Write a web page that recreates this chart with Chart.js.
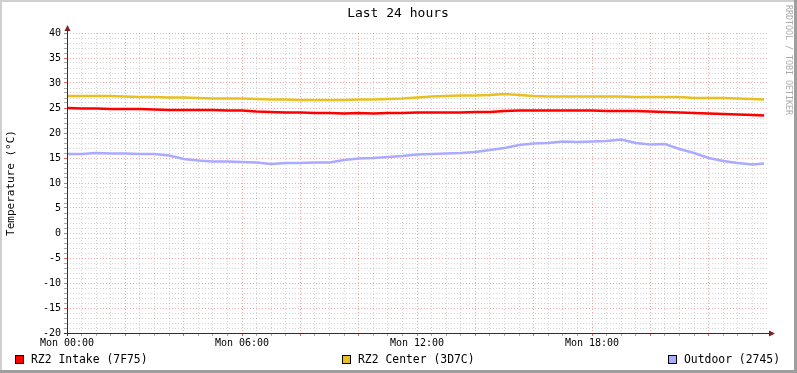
<!DOCTYPE html>
<html>
<head>
<meta charset="utf-8">
<script src="https://cdn.jsdelivr.net/npm/chart.js@4/dist/chart.umd.min.js"></script>
<style>
  html, body { margin: 0; padding: 0; background: #fff; }
  canvas { display: block; }
</style>
</head>
<body>
<canvas id="tempChart" width="797" height="373"></canvas>
<script>
// hours since Mon 00:00
const hours = [
  0, 0.5, 1, 1.5, 2, 2.5, 3, 3.5, 4, 4.5, 5, 5.5,
  6, 6.5, 7, 7.5, 8, 8.5, 9, 9.5, 10, 10.5, 11, 11.5,
  12, 12.5, 13, 13.5, 14, 14.5, 15, 15.5, 16, 16.5, 17, 17.5,
  18, 18.5, 19, 19.5, 20, 20.5, 21, 21.5, 22, 22.5, 23, 23.5, 23.9
];

const intake = [
  25.0, 24.9, 24.9, 24.8, 24.8, 24.8, 24.7, 24.6, 24.6, 24.6, 24.6, 24.5,
  24.5, 24.3, 24.2, 24.1, 24.1, 24.0, 24.0, 23.9, 24.0, 23.9, 24.0, 24.0,
  24.1, 24.1, 24.1, 24.1, 24.2, 24.2, 24.4, 24.5, 24.5, 24.5, 24.5, 24.5,
  24.5, 24.4, 24.4, 24.4, 24.3, 24.2, 24.1, 24.0, 23.9, 23.8, 23.7, 23.6, 23.5
];

const center = [
  27.4, 27.4, 27.4, 27.4, 27.3, 27.2, 27.2, 27.1, 27.1, 27.0, 26.9, 26.9,
  26.9, 26.8, 26.7, 26.7, 26.6, 26.6, 26.6, 26.6, 26.7, 26.7, 26.8, 26.9,
  27.1, 27.3, 27.4, 27.5, 27.5, 27.6, 27.8, 27.6, 27.4, 27.3, 27.3, 27.3,
  27.3, 27.3, 27.3, 27.2, 27.2, 27.2, 27.2, 27.0, 27.0, 27.0, 26.9, 26.8, 26.7
];

const outdoor = [
  15.8, 15.8, 16.0, 15.9, 15.9, 15.8, 15.8, 15.5, 14.8, 14.5, 14.3, 14.3,
  14.2, 14.1, 13.8, 14.0, 14.0, 14.1, 14.1, 14.6, 14.9, 15.0, 15.2, 15.4,
  15.7, 15.8, 15.9, 16.0, 16.2, 16.6, 17.0, 17.6, 17.9, 18.0, 18.3, 18.2,
  18.3, 18.4, 18.7, 18.0, 17.7, 17.8, 16.8, 16.0, 15.0, 14.4, 14.0, 13.7, 13.9
];

const seriesNames = ["RZ2 Intake (7F75)", "RZ2 Center (3D7C)", "Outdoor (2745)"];
const seriesColors = ["#FF0000", "#E8C020", "#AAAAFF"];

const MONO = "'DejaVu Sans Mono', monospace";
const MINOR = "rgba(160,160,160,0.45)";
const MAJOR = "rgba(225,100,100,0.55)";

function toPoints(vals) {
  return vals.map((v, i) => ({ x: hours[i], y: v }));
}

// fondo, marcos, títulos, leyenda y ejes con flechas
const rrdDecor = {
  id: "rrdDecor",
  beforeDraw(chart) {
    const ctx = chart.ctx;
    ctx.save();
    ctx.fillStyle = "#fff";
    ctx.fillRect(0, 0, chart.width, chart.height);
    ctx.restore();
  },
  afterDraw(chart) {
    const ctx = chart.ctx;
    const a = chart.chartArea;
    const W = chart.width, H = chart.height;
    ctx.save();

    // shade borders
    ctx.fillStyle = "#CFCFCF";
    ctx.fillRect(0, 0, W, 2);
    ctx.fillRect(0, 0, 2, H);
    ctx.fillStyle = "#9E9E9E";
    ctx.fillRect(W - 3, 0, 3, H);
    ctx.fillRect(0, H - 3, W, 3);

    // axes
    ctx.strokeStyle = "#3a2a2a";
    ctx.lineWidth = 1;
    ctx.beginPath();
    ctx.moveTo(a.left - 3, a.bottom + 0.5);
    ctx.lineTo(a.right + 3, a.bottom + 0.5);
    ctx.moveTo(a.left + 0.5, a.bottom + 3);
    ctx.lineTo(a.left + 0.5, a.top - 3);
    ctx.stroke();

    ctx.fillStyle = "#801F1F";
    ctx.beginPath();
    ctx.moveTo(a.right + 2, a.bottom - 2.5);
    ctx.lineTo(a.right + 8, a.bottom + 0.5);
    ctx.lineTo(a.right + 2, a.bottom + 3.5);
    ctx.closePath();
    ctx.fill();
    ctx.beginPath();
    ctx.moveTo(a.left - 2.5, a.top - 2);
    ctx.lineTo(a.left + 0.5, a.top - 8);
    ctx.lineTo(a.left + 3.5, a.top - 2);
    ctx.closePath();
    ctx.fill();

    // title
    ctx.fillStyle = "#000";
    ctx.font = "13px " + MONO;
    ctx.textAlign = "center";
    ctx.textBaseline = "middle";
    ctx.fillText("Last 24 hours", 398, 14);

    // y axis title
    ctx.font = "11px " + MONO;
    ctx.translate(11, (a.top + a.bottom) / 2);
    ctx.rotate(-Math.PI / 2);
    ctx.fillText("Temperature (°C)", 0, 0);
    ctx.setTransform(1, 0, 0, 1, 0, 0);

    // watermark
    ctx.fillStyle = "#AAAAAA";
    ctx.font = "8.3px " + MONO;
    ctx.translate(788.5, 60);
    ctx.rotate(Math.PI / 2);
    ctx.fillText("RRDTOOL / TOBI OETIKER", 0, 0);
    ctx.setTransform(1, 0, 0, 1, 0, 0);

    // legend
    const boxX = [15, 342, 668];
    ctx.font = "11.4px " + MONO;
    ctx.textAlign = "left";
    for (let i = 0; i < seriesNames.length; i++) {
      ctx.fillStyle = seriesColors[i];
      ctx.fillRect(boxX[i], 355, 9, 9);
      ctx.strokeStyle = "#000";
      ctx.strokeRect(boxX[i] + 0.5, 355.5, 8, 8);
      ctx.fillStyle = "#000";
      ctx.fillText(seriesNames[i], boxX[i] + 16, 360);
    }
    ctx.restore();
  }
};

const ctx = document.getElementById("tempChart").getContext("2d");

new Chart(ctx, {
  type: "line",
  data: {
    datasets: [
      { label: seriesNames[0], data: toPoints(intake), borderColor: seriesColors[0] },
      { label: seriesNames[1], data: toPoints(center), borderColor: seriesColors[1] },
      { label: seriesNames[2], data: toPoints(outdoor), borderColor: seriesColors[2] }
    ]
  },
  options: {
    responsive: false,
    animation: false,
    devicePixelRatio: 1,
    layout: { padding: { top: 33, right: 30, left: 0, bottom: 0 } },
    elements: {
      line: { borderWidth: 2.6, tension: 0, fill: false },
      point: { radius: 0 }
    },
    plugins: {
      legend: { display: false },
      title: { display: false },
      tooltip: { enabled: false }
    },
    scales: {
      x: {
        type: "linear",
        min: 0,
        max: 24,
        afterFit(scale) { scale.height = 40; },
        afterBuildTicks(scale) {
          scale.ticks = hours.slice(0, 48).map(v => ({ value: v }));
        },
        ticks: {
          autoSkip: false,
          maxRotation: 0,
          padding: 1,
          color: "#000",
          font: { family: MONO, size: 10 },
          callback: v => (v % 6 === 0) ? "Mon " + String(v).padStart(2, "0") + ":00" : ""
        },
        grid: {
          color: c => (c.tick && c.tick.value % 2 === 0) ? MAJOR : MINOR,
          tickColor: c => (c.tick && c.tick.value % 2 === 0) ? "rgba(222,90,90,0.9)" : "rgba(150,150,150,0.8)",
          tickLength: 3,
          lineWidth: 1
        },
        border: { display: false, dash: [1, 2] }
      },
      y: {
        min: -20,
        max: 40,
        afterFit(scale) { scale.width = 67; },
        ticks: {
          stepSize: 1,
          autoSkip: false,
          padding: 3,
          color: "#000",
          font: { family: MONO, size: 10 },
          callback: v => (v % 5 === 0) ? String(v) : ""
        },
        grid: {
          color: c => (c.tick && c.tick.value % 5 === 0) ? MAJOR : MINOR,
          tickColor: c => (c.tick && c.tick.value % 5 === 0) ? "rgba(222,90,90,0.9)" : "rgba(150,150,150,0.8)",
          tickLength: 3,
          lineWidth: 1
        },
        border: { display: false, dash: [1, 2] }
      }
    }
  },
  plugins: [rrdDecor]
});
</script>
</body>
</html>
